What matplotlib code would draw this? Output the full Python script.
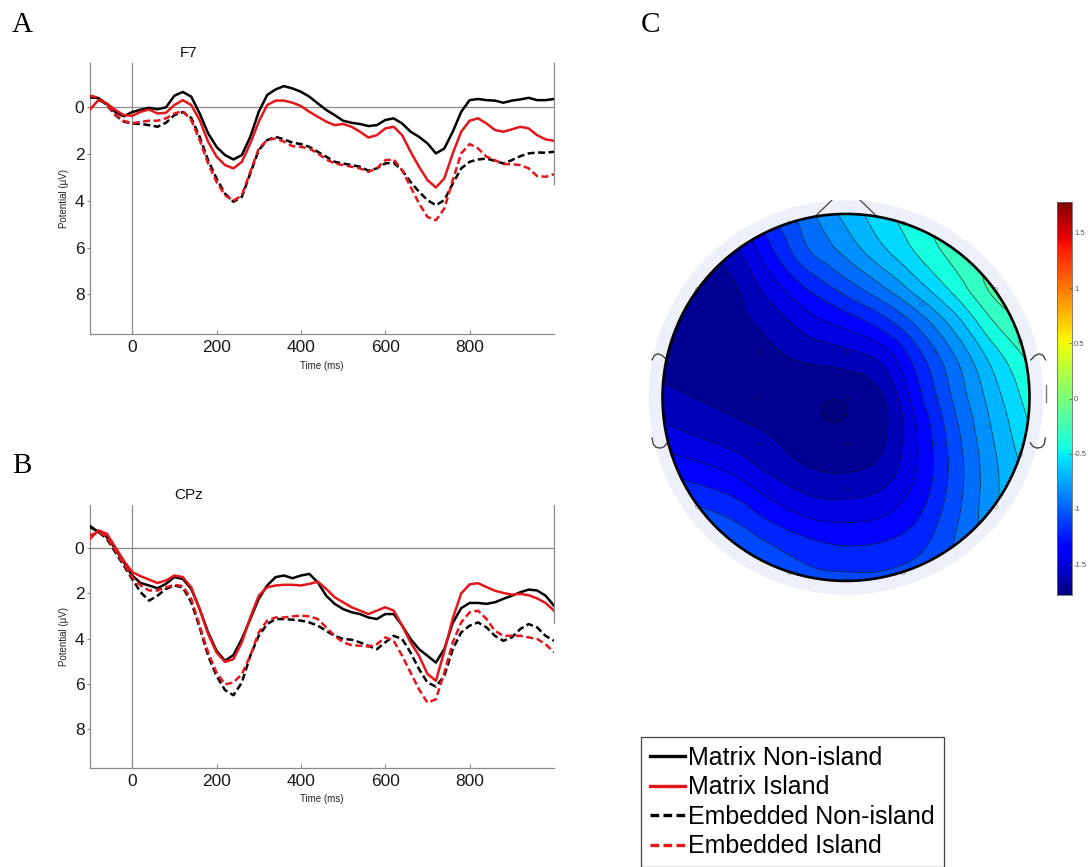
import matplotlib as mpl
import matplotlib.pyplot as plt
import matplotlib.tri as mtri
import numpy as np
from matplotlib.lines import Line2D
from matplotlib.patches import Circle

plt.rcParams["font.family"] = ["Liberation Sans", "DejaVu Sans"]

# sample times (ms)
times = np.arange(-100, 1001, 20)

# F7 grand averages, microvolts (negative plotted up)
f7_matrix_nonisland = [
    -0.43, -0.40, -0.14, 0.20, 0.38, 0.20, 0.10, 0.02, 0.08, 0.00, -0.50, -0.66,
    -0.46, 0.26, 1.11, 1.69, 2.04, 2.23, 2.04, 1.26, 0.19, -0.53, -0.77, -0.91,
    -0.81, -0.67, -0.46, -0.17, 0.11, 0.33, 0.57, 0.66, 0.71, 0.80, 0.76, 0.54,
    0.47, 0.69, 1.04, 1.26, 1.54, 1.97, 1.76, 1.04, 0.19, -0.31, -0.36, -0.31,
    -0.29, -0.20, -0.29, -0.34, -0.41, -0.31, -0.31, -0.36,
]
f7_matrix_island = [
    0.09, -0.31, -0.17, 0.11, 0.33, 0.36, 0.19, 0.09, 0.26, 0.23, -0.10, -0.31,
    -0.10, 0.54, 1.47, 2.11, 2.47, 2.61, 2.33, 1.54, 0.61, -0.10, -0.29, -0.29,
    -0.20, -0.06, 0.19, 0.40, 0.61, 0.76, 0.71, 0.83, 1.04, 1.29, 1.19, 0.90,
    0.83, 1.19, 1.90, 2.54, 3.11, 3.43, 3.04, 1.97, 1.04, 0.57, 0.47, 0.69,
    0.97, 1.04, 0.94, 0.83, 0.90, 1.19, 1.37, 1.43,
]
f7_embedded_nonisland = [
    -0.46, -0.39, -0.10, 0.33, 0.61, 0.69, 0.71, 0.76, 0.83, 0.66, 0.33, 0.20,
    0.45, 1.26, 2.26, 3.04, 3.69, 4.04, 3.83, 2.83, 1.83, 1.40, 1.26, 1.37,
    1.51, 1.57, 1.69, 1.90, 2.11, 2.33, 2.40, 2.47, 2.54, 2.71, 2.61, 2.40,
    2.37, 2.69, 3.19, 3.61, 3.97, 4.19, 3.97, 3.26, 2.61, 2.33, 2.23, 2.19,
    2.29, 2.40, 2.26, 2.09, 1.97, 1.93, 1.94, 1.90,
]
f7_embedded_island = [
    -0.50, -0.42, -0.12, 0.30, 0.58, 0.68, 0.62, 0.57, 0.57, 0.47, 0.26, 0.16,
    0.55, 1.40, 2.40, 3.19, 3.76, 4.00, 3.76, 2.76, 1.76, 1.40, 1.33, 1.47,
    1.66, 1.69, 1.76, 1.97, 2.23, 2.40, 2.47, 2.54, 2.61, 2.76, 2.61, 2.26,
    2.23, 2.69, 3.40, 4.11, 4.69, 4.83, 4.33, 3.11, 1.97, 1.57, 1.76, 2.11,
    2.26, 2.43, 2.43, 2.47, 2.61, 2.94, 2.97, 2.86,
]

# CPz grand averages
cpz_matrix_nonisland = [
    -0.97, -0.71, -0.49, 0.03, 0.62, 1.21, 1.54, 1.65, 1.77, 1.58, 1.28, 1.36,
    1.80, 2.69, 3.72, 4.53, 4.97, 4.72, 4.01, 3.13, 2.24, 1.65, 1.28, 1.21,
    1.33, 1.21, 1.14, 1.51, 2.10, 2.46, 2.69, 2.83, 2.91, 3.06, 3.13, 2.91,
    2.91, 3.42, 4.01, 4.46, 4.75, 5.05, 4.45, 3.30, 2.65, 2.42, 2.42, 2.46,
    2.39, 2.24, 2.10, 1.95, 1.83, 1.87, 2.10, 2.54,
]
cpz_matrix_island = [
    -0.41, -0.78, -0.63, -0.04, 0.55, 1.06, 1.24, 1.39, 1.54, 1.43, 1.21, 1.28,
    1.73, 2.69, 3.79, 4.61, 5.02, 4.90, 4.16, 3.06, 2.10, 1.73, 1.65, 1.62,
    1.62, 1.65, 1.58, 1.48, 1.80, 2.17, 2.39, 2.61, 2.76, 2.91, 2.76, 2.61,
    2.76, 3.42, 4.16, 4.75, 5.55, 5.85, 4.55, 3.10, 2.00, 1.60, 1.55, 1.72,
    1.88, 1.98, 2.05, 2.02, 2.08, 2.22, 2.42, 2.76,
]
cpz_embedded_nonisland = [
    -0.93, -0.71, -0.41, 0.18, 0.77, 1.36, 1.95, 2.32, 2.10, 1.80, 1.65, 1.73,
    2.39, 3.50, 4.75, 5.64, 6.26, 6.49, 5.93, 4.75, 3.87, 3.35, 3.13, 3.13,
    3.16, 3.20, 3.28, 3.42, 3.65, 3.87, 4.01, 4.04, 4.16, 4.31, 4.46, 4.16,
    3.87, 4.01, 4.61, 5.34, 5.93, 6.11, 5.64, 4.46, 3.72, 3.42, 3.28, 3.50,
    3.87, 4.09, 3.94, 3.57, 3.35, 3.50, 3.87, 4.09,
]
cpz_embedded_island = [
    -0.56, -0.71, -0.49, 0.10, 0.69, 1.28, 1.65, 1.87, 1.87, 1.73, 1.62, 1.68,
    2.24, 3.42, 4.61, 5.49, 6.01, 5.93, 5.56, 4.75, 3.72, 3.20, 3.06, 3.06,
    3.01, 2.98, 3.01, 3.13, 3.50, 3.87, 4.16, 4.28, 4.31, 4.34, 4.24, 3.94,
    4.09, 4.75, 5.49, 6.23, 6.82, 6.67, 5.49, 4.16, 3.28, 2.83, 2.76, 3.13,
    3.65, 3.87, 3.87, 3.87, 3.94, 4.01, 4.24, 4.60,
]

conditions = ["Matrix Non-island", "Matrix Island",
              "Embedded Non-island", "Embedded Island"]
cond_colors = ["black", "#e3161b", "black", "#e3161b"]
cond_dashed = [False, False, True, True]

# scalp map: potential on an 11 x 11 grid, head radius = 1
# rows run from front (top) to back, columns from left to right
topo_x = np.linspace(-1, 1, 11)
topo_y = np.linspace(1, -1, 11)
topo_rows = [
    [-1.70, -1.58, -1.40, -1.15, -0.92, -0.72, -0.55, -0.40, -0.25, -0.12, -0.02],
    [-1.74, -1.68, -1.55, -1.28, -1.02, -0.85, -0.66, -0.48, -0.32, -0.18, -0.06],
    [-1.75, -1.72, -1.66, -1.45, -1.25, -1.08, -0.90, -0.68, -0.45, -0.22, -0.10],
    [-1.75, -1.74, -1.70, -1.60, -1.46, -1.36, -1.22, -0.98, -0.70, -0.40, -0.22],
    [-1.72, -1.74, -1.72, -1.68, -1.64, -1.60, -1.50, -1.20, -0.90, -0.60, -0.36],
    [-1.60, -1.66, -1.70, -1.72, -1.76, -1.77, -1.66, -1.30, -0.98, -0.70, -0.45],
    [-1.48, -1.54, -1.60, -1.66, -1.74, -1.76, -1.68, -1.38, -1.05, -0.76, -0.52],
    [-1.30, -1.35, -1.43, -1.55, -1.64, -1.66, -1.60, -1.38, -1.08, -0.80, -0.58],
    [-1.10, -1.14, -1.22, -1.36, -1.46, -1.48, -1.44, -1.30, -1.05, -0.80, -0.62],
    [-0.95, -0.98, -1.04, -1.15, -1.24, -1.28, -1.26, -1.18, -1.00, -0.80, -0.68],
    [-0.85, -0.88, -0.94, -1.00, -1.08, -1.10, -1.10, -1.05, -0.95, -0.80, -0.70],
]
electrode_x = [-0.31, 0.31, -0.81, -0.41, 0.0, 0.41, 0.81, -0.95, -0.48, 0.0,
               0.48, 0.95, -0.49, 0.0, 0.49, -0.95, -0.48, 0.0, 0.48, 0.95,
               -0.81, -0.41, 0.0, 0.41, 0.81, -0.31, 0.0, 0.31]
electrode_y = [0.95, 0.95, 0.59, 0.51, 0.5, 0.51, 0.59, 0.31, 0.25, 0.25,
               0.25, 0.31, 0.0, 0.0, 0.0, -0.31, -0.25, -0.25, -0.25, -0.31,
               -0.59, -0.51, -0.5, -0.51, -0.59, -0.95, -0.98, -0.95]
clim = 1.78
cbar_ticks = [-1.5, -1, -0.5, 0, 0.5, 1, 1.5]
cbar_labels = ["-1.5", "-1", "-0.5", "0", "0.5", "1", "1.5"]

W, H = 1088, 867
fig = plt.figure(figsize=(W / 100, H / 100), dpi=100)


def px_axes(left, top, right, bottom):
    return fig.add_axes([left / W, 1 - bottom / H, (right - left) / W, (bottom - top) / H])


AXIS_GREY = "#8a8a8a"
Y_TOP, Y_BOTTOM = -1.9, 9.7


def erp_panel(ax, title, series):
    for vals, c, dashed in zip(series, cond_colors, cond_dashed):
        if dashed:
            ax.plot(times, vals, color=c, lw=1.8, dashes=(2.8, 1.4), zorder=3)
        else:
            ax.plot(times, vals, color=c, lw=1.8, zorder=3)
    ax.set_xlim(-100, 1000)
    ax.set_ylim(Y_BOTTOM, Y_TOP)
    ax.axhline(0, color=AXIS_GREY, lw=0.9, zorder=1)
    ax.axvline(0, color=AXIS_GREY, lw=0.9, zorder=1)
    ax.axvline(1000, ymin=(Y_BOTTOM - 3.3) / (Y_BOTTOM - Y_TOP), ymax=1,
               color=AXIS_GREY, lw=0.9, clip_on=False)
    for s in ["top", "right"]:
        ax.spines[s].set_visible(False)
    for s in ["left", "bottom"]:
        ax.spines[s].set_color(AXIS_GREY)
        ax.spines[s].set_linewidth(0.9)
    ax.set_xticks([0, 200, 400, 600, 800])
    ax.set_yticks([0, 2, 4, 6, 8])
    ax.tick_params(axis="x", direction="in", length=3, width=0.8, color=AXIS_GREY,
                   labelsize=12.5, labelcolor="#1a1a1a", pad=4)
    ax.tick_params(axis="y", direction="out", length=2.5, width=0.8, color=AXIS_GREY,
                   labelsize=12.5, labelcolor="#1a1a1a", pad=1.5)
    ax.set_xlabel("Time (ms)", fontsize=7, color="#222")
    ax.xaxis.set_label_coords(0.5, -0.1)
    ax.set_ylabel("Potential (\u03bcV)", fontsize=7, color="#222")
    ax.yaxis.set_label_coords(-0.045, 0.5)
    ax.text(0.213, 1.01, title, transform=ax.transAxes, ha="center", va="bottom",
            fontsize=11, color="#111")
    ax.patch.set_alpha(0)


ax_a = px_axes(90, 63, 554, 334)
erp_panel(ax_a, "F7", [f7_matrix_nonisland, f7_matrix_island,
                       f7_embedded_nonisland, f7_embedded_island])
ax_b = px_axes(90, 505, 554, 768)
erp_panel(ax_b, "CPz", [cpz_matrix_nonisland, cpz_matrix_island,
                        cpz_embedded_nonisland, cpz_embedded_island])

# scalp map
ax_t = px_axes(626, 200, 1066, 620)
ax_t.set_xlim(-1.199, 1.199)
ax_t.set_ylim(-1.213, 1.076)
ax_t.axis("off")
ax_t.add_patch(Circle((0, 0), 1.075, facecolor="#edf0f8", edgecolor="none", zorder=0))

gx, gy = np.meshgrid(topo_x, topo_y)
tri = mtri.Triangulation(gx.ravel(), gy.ravel())
z = np.array(topo_rows).ravel()
fine_tri, fine_z = mtri.UniformTriRefiner(tri).refine_field(
    z, mtri.CubicTriInterpolator(tri, z, kind="geom"), subdiv=3)

levels = np.linspace(-clim, clim, 29)
filled = ax_t.tricontourf(fine_tri, fine_z, levels=levels, cmap="jet",
                          vmin=-clim, vmax=clim, extend="both", zorder=1)
filled.set_clip_path(Circle((0, 0), 1.0, transform=ax_t.transData))
lines = ax_t.tricontour(fine_tri, fine_z, levels=levels, colors="#111",
                        linewidths=0.6, linestyles="solid", alpha=0.7, zorder=2)
lines.set_clip_path(Circle((0, 0), 1.0, transform=ax_t.transData))
ax_t.plot(electrode_x, electrode_y, "o", ms=3, mfc="none", mec="#222",
          mew=0.6, alpha=0.35, zorder=3)
ax_t.add_patch(Circle((0, 0), 1.0, facecolor="none", edgecolor="black", lw=1.9, zorder=5))

# nose and ears
ax_t.plot([-0.17, 0, 0.17], [0.985, 1.15, 0.985], color="#444", lw=0.9, zorder=4)
ear_top_x = [0.978, 1.000, 1.025, 1.045, 1.057]
ear_top_y = [0.205, 0.228, 0.238, 0.228, 0.205]
ear_bot_x = [0.975, 0.990, 1.010, 1.035, 1.050, 1.057]
ear_bot_y = [-0.248, -0.268, -0.276, -0.272, -0.255, -0.221]
for side, shift in [(-1, 0.0), (1, 0.03)]:
    ax_t.plot([side * (x + shift) for x in ear_top_x], ear_top_y, color="#444", lw=1.0, zorder=4)
    ax_t.plot([side * (x + shift) for x in ear_bot_x], ear_bot_y, color="#444", lw=1.0, zorder=4)
ax_t.plot([1.09, 1.09], [0.07, -0.025], color="#777", lw=1.0, zorder=4)

# colour scale
cax = px_axes(1057, 202, 1072, 595)
cb = fig.colorbar(mpl.cm.ScalarMappable(norm=mpl.colors.Normalize(-clim, clim), cmap="jet"),
                  cax=cax)
cb.set_ticks(cbar_ticks)
cb.set_ticklabels(cbar_labels)
cax.tick_params(labelsize=5.5, length=2.5, width=0.5, direction="in", colors="#555", pad=1.5)
cb.outline.set_edgecolor("#666")
cb.outline.set_linewidth(0.6)

# legend
handles = []
for c, dashed in zip(cond_colors, cond_dashed):
    if dashed:
        handles.append(Line2D([], [], color=c, lw=2.4, dashes=(2.6, 1.3)))
    else:
        handles.append(Line2D([], [], color=c, lw=2.4))
leg = fig.legend(handles, conditions, loc="upper left",
                 bbox_to_anchor=(641 / W, 1 - 737 / H), fontsize=18,
                 frameon=True, fancybox=False, edgecolor="#444", framealpha=1,
                 borderpad=0.35, labelspacing=0.22, handlelength=1.4,
                 handletextpad=0.15, borderaxespad=0)
leg.get_frame().set_linewidth(0.9)

# panel letters
for letter, x, y in [("A", 12, 32), ("B", 12, 473), ("C", 641, 32)]:
    fig.text(x / W, 1 - y / H, letter, fontsize=21, family="Liberation Serif",
             va="baseline", ha="left")

fig.savefig("out.png", dpi=100)
